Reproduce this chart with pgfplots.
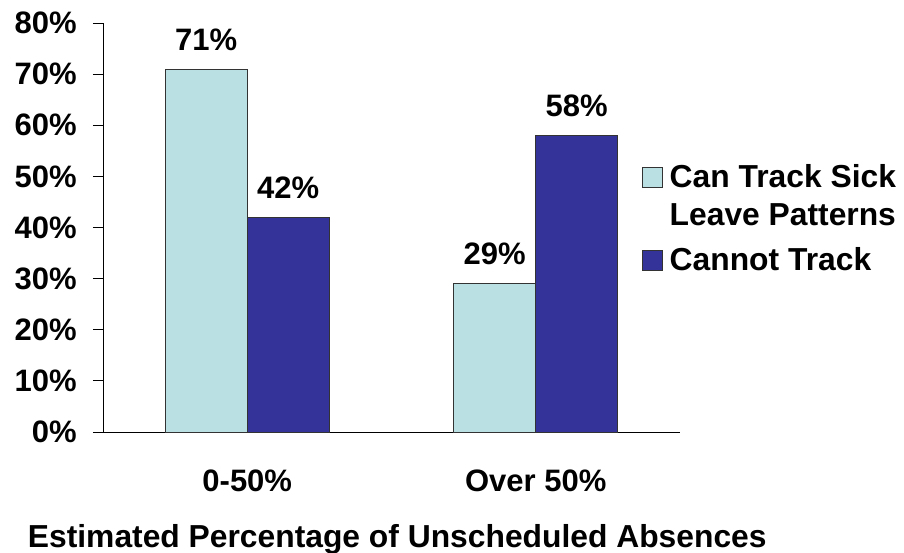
\documentclass[border=0pt]{standalone}
\usepackage{fontspec}
\setmainfont{Liberation Sans}
\usepackage{pgfplots}
\pgfplotsset{compat=1.18}
\definecolor{lightc}{HTML}{BBE0E3}
\definecolor{darkc}{HTML}{333399}
\newcommand\F{\fontsize{31}{37}\selectfont\bfseries}
\newcommand\G{\fontsize{31.8}{38}\selectfont\bfseries}
\begin{document}
\F
\begin{tikzpicture}
\path[use as bounding box] (-103pt,-120pt) rectangle (801pt,432pt);
\begin{axis}[
  at={(0,0)}, anchor=south west,
  scale only axis, width=577pt, height=409pt,
  xmin=-0.5, xmax=1.5, ymin=0, ymax=80,
  ybar=0pt, bar width=82pt,
  axis lines*=left,
  axis line style={line width=0.8pt},
  /pgf/number format/assume math mode=true,
  ytick={0,10,...,80},
  yticklabel={\pgfmathprintnumber{\tick}\%},
  yticklabel style={font=\F, xshift=-5.7pt},
  xtick={0,1},
  xticklabels={0-50\%, Over 50\%},
  xticklabel style={font=\F, yshift=-17.5pt},
  x tick style={draw=none},
  y tick style={black, line width=0.8pt},
  extra x ticks={-0.5,0.5,1.5},
  extra x tick labels={},
  extra x tick style={tick style={draw=black, line width=0.8pt}},
  tick align=outside,
  major tick length=10pt,
  xlabel={Estimated Percentage of Unscheduled Absences},
  xlabel style={font=\G, at={(rel axis cs:0.51,0)}, anchor=base, yshift=-115pt},
  nodes near coords={\pgfmathprintnumber{\pgfplotspointmeta}\%},
  every node near coord/.append style={font=\F, yshift=8pt},
  legend style={draw=none, fill=none, at={(0.934,0.653)}, anchor=north west, font=\G, row sep=0pt, inner sep=0pt, outer sep=0pt, nodes={inner sep=0pt}, column sep=7pt},
  legend cell align=left,
  legend image code/.code={\draw[#1, line width=0.8pt] (0pt,-9pt) rectangle (20pt,11pt);},
]
\addplot[fill=lightc, draw=black!80, line width=0.8pt] coordinates {(0,71) (1,29)};
\addlegendentry{\rule{0pt}{22pt}Can Track Sick}
\addlegendimage{legend image code/.code={}}
\addlegendentry{\rule{0pt}{33pt}Leave Patterns}
\addplot[fill=darkc, draw=black!80, line width=0.8pt,
  legend image code/.code={\draw[fill=darkc, draw=black!80, line width=0.8pt] (0pt,-18pt) rectangle (20pt,2pt);}] coordinates {(0,42) (1,58)};
\addlegendentry{\rule{0pt}{40pt}Cannot Track}
\end{axis}
\end{tikzpicture}
\end{document}
